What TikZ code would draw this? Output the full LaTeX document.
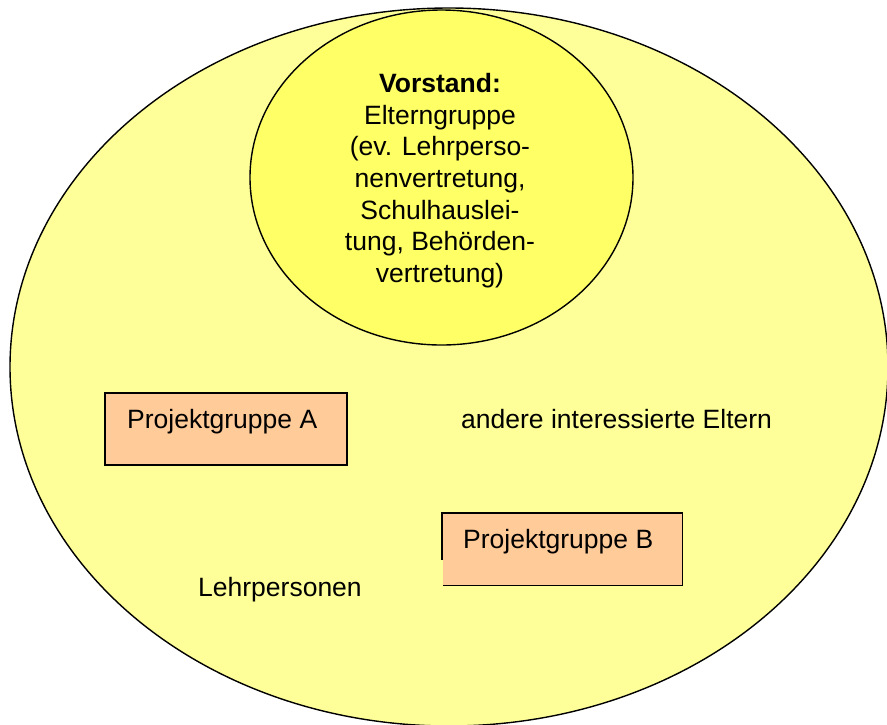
\documentclass[tikz,border=0pt]{standalone}
\usepackage{fontspec}
\setmainfont{Liberation Sans}
\usetikzlibrary{shapes.geometric,calc}
\definecolor{outerfill}{RGB}{255,255,153}
\definecolor{innerfill}{RGB}{255,255,102}
\definecolor{boxfill}{RGB}{255,204,153}
\tikzset{
  x=1pt, y=-1pt,
  bigoval/.style={ellipse, draw=black, line width=1.4pt, inner sep=0pt},
  groupbox/.style={rectangle, fill=boxfill, inner sep=0pt},
  boxline/.style={draw=black, line width=1.4pt},
  lbl/.style={inner sep=0pt, font=\fontsize{26.5}{31.7}\selectfont},
}
\begin{document}
\begin{tikzpicture}
\useasboundingbox (0,0) rectangle (887,724);
\clip (0,0) rectangle (887,724);
\node[bigoval, fill=outerfill, minimum width=878pt, minimum height=718pt] (outer) at (449,367) {};
\node[bigoval, fill=innerfill, minimum width=383pt, minimum height=335pt] (vorstand) at (441.5,177.5) {};
\node[lbl, align=center, anchor=north] (vtext) at (440,73)
  {\textbf{Vorstand:}\\Elterngruppe\\(ev. Lehrperso-\\nenvertretung,\\Schulhauslei-\\tung, Behörden-\\vertretung)};
% Projektgruppe A
\node[groupbox, boxline, minimum width=242pt, minimum height=72pt] (boxA) at (226,429) {};
\node[lbl, anchor=base west] (textA) at (127,428) {Projektgruppe A};
% Projektgruppe B
\node[groupbox, minimum width=239pt, minimum height=72pt] (boxB) at (562.5,549) {};
\draw[line width=1.4pt] (boxB.south west) -- (boxB.south east) -- (boxB.north east) -- ($(boxB.north west)+(-1,0)$) -- ($(boxB.north west)+(-1,47)$);
\node[lbl, anchor=base west] (textB) at (463,548) {Projektgruppe B};
% other labels
\node[lbl, anchor=base west] (eltern) at (461,428) {andere interessierte Eltern};
\node[lbl, anchor=base west] (lehrer) at (198,596) {Lehrpersonen};
\end{tikzpicture}
\end{document}
